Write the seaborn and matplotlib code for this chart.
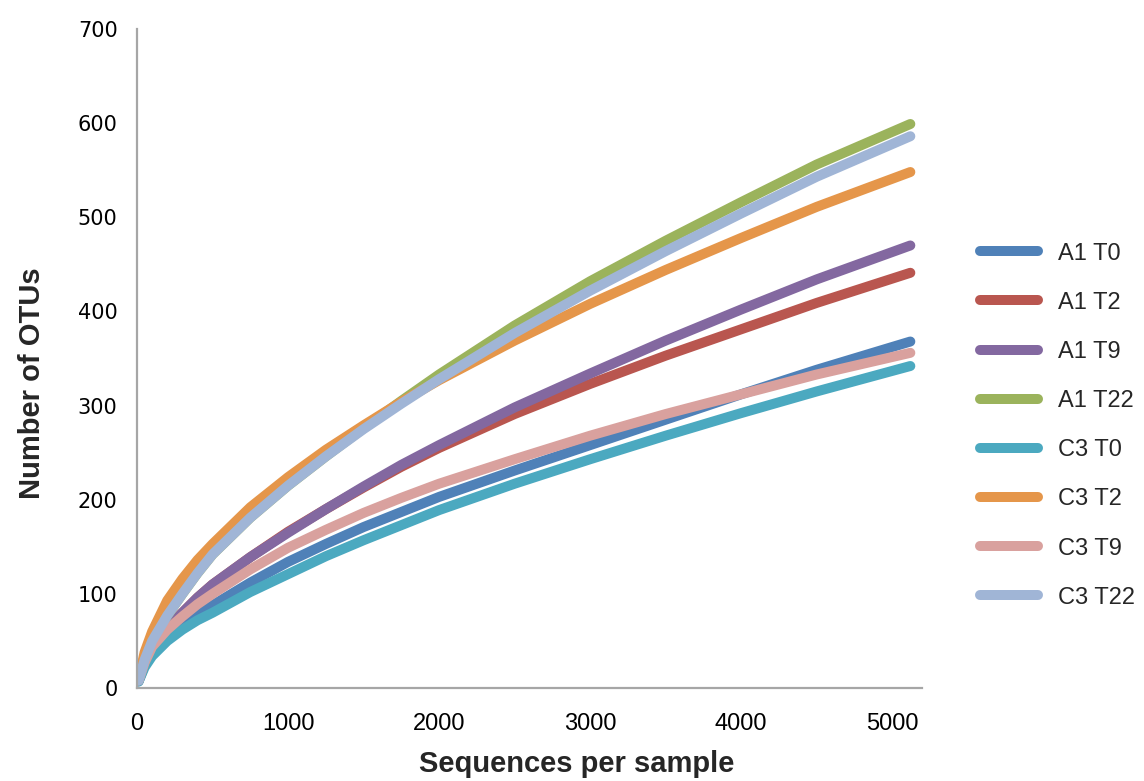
import matplotlib
matplotlib.use("Agg")
import matplotlib.pyplot as plt
from matplotlib.lines import Line2D
import pandas as pd
import seaborn as sns

# Rarefaction depths (sequences per sample)
depth = [10, 50, 100, 200, 300, 400, 500, 750, 1000, 1250, 1500, 1750,
         2000, 2500, 3000, 3500, 4000, 4500, 5120]

# Observed OTUs at each depth
a1_t0 = [7, 24, 38, 54, 66, 78, 88, 112, 134, 153, 171, 187, 203, 231, 258, 285, 312, 338, 368]
a1_t2 = [8, 28, 45, 64, 80, 96, 110, 139, 166, 190, 213, 235, 255, 291, 323, 353, 381, 409, 441]
a1_t9 = [8, 28, 45, 64, 80, 96, 110, 139, 165, 190, 214, 237, 258, 298, 334, 369, 402, 434, 470]
a1_t22 = [8, 30, 50, 77, 100, 122, 142, 181, 215, 246, 276, 305, 333, 385, 432, 475, 516, 556, 599]
c3_t0 = [7, 22, 34, 50, 62, 72, 80, 102, 121, 140, 157, 173, 189, 217, 243, 268, 292, 315, 342]
c3_t2 = [9, 38, 60, 93, 116, 136, 153, 192, 224, 253, 279, 304, 327, 369, 408, 444, 478, 511, 548]
c3_t9 = [8, 27, 44, 62, 76, 89, 100, 126, 149, 168, 186, 202, 217, 243, 268, 291, 312, 333, 356]
c3_t22 = [8, 30, 50, 77, 100, 122, 142, 181, 215, 246, 275, 302, 328, 377, 422, 464, 504, 543, 586]

series_names = ["A1 T0", "A1 T2", "A1 T9", "A1 T22", "C3 T0", "C3 T2", "C3 T9", "C3 T22"]
series_values = [a1_t0, a1_t2, a1_t9, a1_t22, c3_t0, c3_t2, c3_t9, c3_t22]
colors = ["#4F81B8", "#B9564F", "#8368A0", "#9BB35C", "#4BA9C0", "#E5964A", "#D9A19E", "#A0B5D6"]

y_ticks = [0, 100, 200, 300, 400, 500, 600, 700]
x_ticks = [0, 1000, 2000, 3000, 4000, 5000]

rows = []
for name, vals in zip(series_names, series_values):
    for d, v in zip(depth, vals):
        rows.append({"sample": name, "depth": d, "otus": v})
df = pd.DataFrame(rows)
palette = dict(zip(series_names, colors))

sns.set_theme(style="white")
plt.rcParams["font.family"] = ["Liberation Sans", "DejaVu Sans"]

fig = plt.figure(figsize=(11.44, 7.81), dpi=100)
ax = fig.add_axes([0.1198, 0.119, 0.6865, 0.844])

LW = 7.2
sns.lineplot(data=df, x="depth", y="otus", hue="sample", hue_order=series_names,
             palette=palette, linewidth=LW, legend=False, ax=ax,
             solid_capstyle="round", solid_joinstyle="round", estimator=None, sort=False)

ax.set_xlim(0, 5200)
ax.set_ylim(0, 700)
ax.set_xticks(x_ticks)
ax.set_yticks(y_ticks)
ax.set_xticklabels([str(t) for t in x_ticks], fontsize=17, family="Liberation Sans")
ax.set_yticklabels([str(t) for t in y_ticks], fontsize=15, family="DejaVu Sans")

for side in ["top", "right"]:
    ax.spines[side].set_visible(False)
for side in ["left", "bottom"]:
    ax.spines[side].set_color("#A6A6A6")
    ax.spines[side].set_linewidth(1.6)
ax.tick_params(axis="both", direction="out", length=6, width=1.5, color="#A6A6A6",
               labelcolor="black", pad=8)
ax.tick_params(axis="x", pad=12)
ax.grid(False)

title_font = dict(family="Liberation Sans", size=21, weight="bold")
ax.set_xlabel("Sequences per sample", fontdict=title_font)
ax.set_ylabel("Number of OTUs", fontdict=title_font)
ax.xaxis.set_label_coords(0.56, -0.094)
ax.yaxis.set_label_coords(-0.116, 0.462)

handles = [Line2D([0], [0], color=c, linewidth=LW, solid_capstyle="round") for c in colors]
fig.legend(handles, series_names, loc="center left", bbox_to_anchor=(0.8566, 0.455),
           frameon=False, fontsize=17, handlelength=2.46, handletextpad=0.85,
           labelspacing=1.15, borderpad=0, borderaxespad=0)

fig.savefig("out.png", dpi=100, facecolor="white")
